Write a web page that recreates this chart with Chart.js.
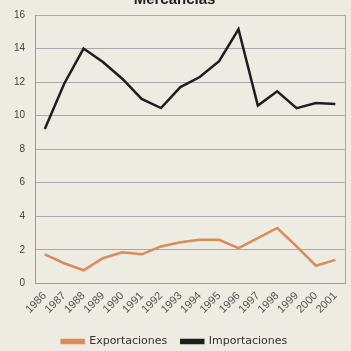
<!DOCTYPE html>
<html>
<head>
<meta charset="utf-8">
<script src="https://cdn.jsdelivr.net/npm/chart.js@4.4.0/dist/chart.umd.min.js"></script>
<style>
  html, body { margin: 0; padding: 0; background: #eeebe3; overflow: hidden; }
  #wrap { position: absolute; left: 0; top: -9px; width: 351px; height: 366px; }
</style>
</head>
<body>
<div id="wrap"><canvas id="myChart"></canvas></div>
<script>
// años
const years = ['1986','1987','1988','1989','1990','1991','1992','1993','1994','1995','1996','1997','1998','1999','2000','2001'];
// valores
const exportaciones = [1.73, 1.2, 0.78, 1.5, 1.85, 1.73, 2.2, 2.45, 2.6, 2.6, 2.1, 2.7, 3.3, 2.2, 1.05, 1.4];
const importaciones = [9.2, 11.9, 14.0, 13.2, 12.2, 11.0, 10.45, 11.7, 12.3, 13.25, 15.15, 10.6, 11.45, 10.45, 10.75, 10.7];
const yTicks = [0, 2, 4, 6, 8, 10, 12, 14, 16];

const ctx = document.getElementById('myChart').getContext('2d');
const myChart = new Chart(ctx, {
  type: 'line',
  data: {
    labels: years,
    datasets: [
      {
        label: 'Exportaciones',
        data: exportaciones,
        borderColor: '#d98b58',
        backgroundColor: '#d98b58',
        borderWidth: 2.5,
        pointRadius: 0,
        tension: 0
      },
      {
        label: 'Importaciones',
        data: importaciones,
        borderColor: '#1e1e1e',
        backgroundColor: '#1e1e1e',
        borderWidth: 2.5,
        pointRadius: 0,
        tension: 0
      }
    ]
  },
  options: {
    responsive: true,
    maintainAspectRatio: false,
    animation: false,
    layout: { padding: { top: 0, left: 4, right: 6, bottom: 0 } },
    plugins: {
      title: {
        display: true,
        text: 'Mercancías',
        color: '#222',
        font: { family: 'Liberation Sans', size: 15, weight: 'bold' },
        padding: { top: 0, bottom: 6 }
      },
      legend: {
        position: 'bottom',
        labels: {
          color: '#333',
          boxWidth: 22,
          boxHeight: 3,
          padding: 14,
          font: { family: 'DejaVu Sans', size: 11 }
        }
      },
      tooltip: { enabled: false }
    },
    scales: {
      x: {
        offset: true,
        grid: { display: false, drawTicks: false },
        border: { color: '#9a9a9a' },
        ticks: {
          color: '#555',
          font: { family: 'Liberation Sans', size: 11 },
          minRotation: 45,
          maxRotation: 45,
          autoSkip: false,
          padding: 6
        }
      },
      y: {
        min: 0,
        max: 16,
        afterBuildTicks: axis => { axis.ticks = yTicks.map(v => ({ value: v })); },
        grid: { color: '#a8a8a8', drawTicks: false, lineWidth: 1 },
        border: { color: '#9a9a9a' },
        ticks: {
          color: '#444',
          font: { family: 'Liberation Sans', size: 10 },
          padding: 10
        }
      }
    }
  },
  plugins: [{
    // borde derecho del area del grafico
    id: 'frame',
    afterDraw(chart) {
      const a = chart.chartArea, c = chart.ctx;
      c.save();
      c.strokeStyle = '#a8a8a8';
      c.lineWidth = 1;
      c.beginPath();
      c.moveTo(a.right + 0.5, a.top);
      c.lineTo(a.right + 0.5, a.bottom);
      c.stroke();
      c.restore();
    }
  }]
});
</script>
</body>
</html>
